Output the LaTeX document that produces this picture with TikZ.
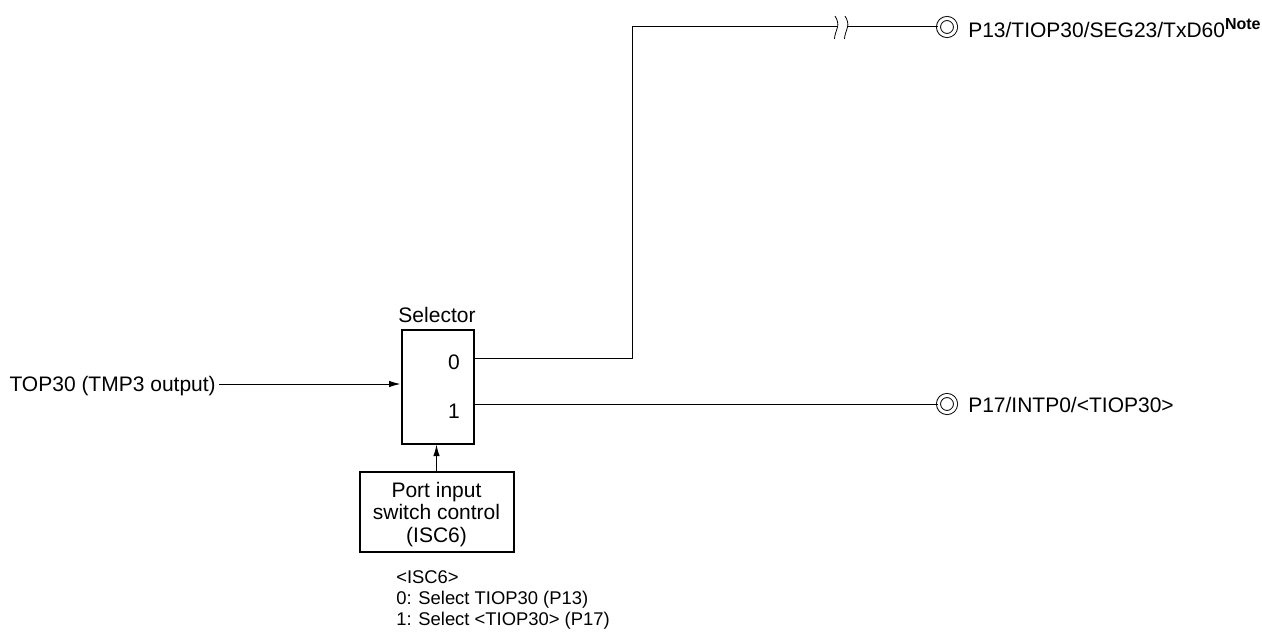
\documentclass[tikz,border=0pt]{standalone}
\usepackage{fontspec}
\setmainfont{Liberation Sans}
\usetikzlibrary{arrows.meta}
\tikzset{
  wire/.style={line width=0.75pt},
  boxnode/.style={draw,line width=1.5pt,inner sep=0pt,align=center},
  pinnode/.style={circle,draw,double,line width=0.7pt,double distance=2.3pt,minimum size=12.8pt,inner sep=0pt},
  label/.style={inner sep=0pt,align=left},
  tip/.style={-{Latex[length=8.5pt,width=4.8pt]}}
}
\begin{document}
\begin{tikzpicture}[x=0.75pt,y=-0.75pt,font=\fontsize{15.75pt}{17pt}\selectfont]
  \useasboundingbox (0,0) rectangle (1262,635);
  \node[boxnode,minimum width=54pt,minimum height=85pt] (selector) at (437.5,387) {};
  \node[boxnode,minimum width=115.5pt,minimum height=60pt] (control) at (436.5,512) {\rule{0pt}{15pt}Port input\\switch control\\(ISC6)};
  \node[label,anchor=center] (selname) at (437,315) {Selector};
  \node[label] (out0) at (454,362) {0};
  \node[label] (out1) at (454,411) {1};
  \node[label,anchor=east] (top30) at (216,386) {TOP30 (TMP3 output)};
  \node[label,anchor=north west,font=\fontsize{13.8pt}{15.75pt}\selectfont] (note) at (396,570) {<ISC6>\\0: Select TIOP30 (P13)\\1: Select <TIOP30> (P17)};
  \node[pinnode] (p13) at (947,27) {};
  \node[pinnode] (p17) at (947,404) {};
  \node[label,anchor=west] (p13name) at (968,28) {P13/TIOP30/SEG23/TxD60\raisebox{6.5pt}{\fontsize{12pt}{12pt}\selectfont\bfseries Note}};
  \node[label,anchor=west] (p17name) at (968,405) {P17/INTP0/<TIOP30>};
  \coordinate (brka) at (837.5,27);
  \coordinate (brkb) at (847.5,27);
  % selector outputs
  \draw[wire] (selector.east |- 0,358) -- (632,358) -- (632,27) -- (brka);
  \draw[wire] (brkb) -- (p13);
  \draw[wire] (selector.east |- p17) -- (p17);
  % inputs
  \draw[wire,tip] (top30.east |- 0,384) ++(3,0) -- (selector.west |- 0,384);
  \draw[wire,tip] (control.north -| 436.5,0) -- (selector.south -| 436.5,0);
  % break mark
  \foreach \x in {837.5,847.5}
    \draw[line width=0.6pt] (\x-2.5,16) .. controls (\x,20) and (\x+1,24) .. (\x,27) .. controls (\x-1,31) and (\x-3,35) .. (\x-3,39);
\end{tikzpicture}
\end{document}
